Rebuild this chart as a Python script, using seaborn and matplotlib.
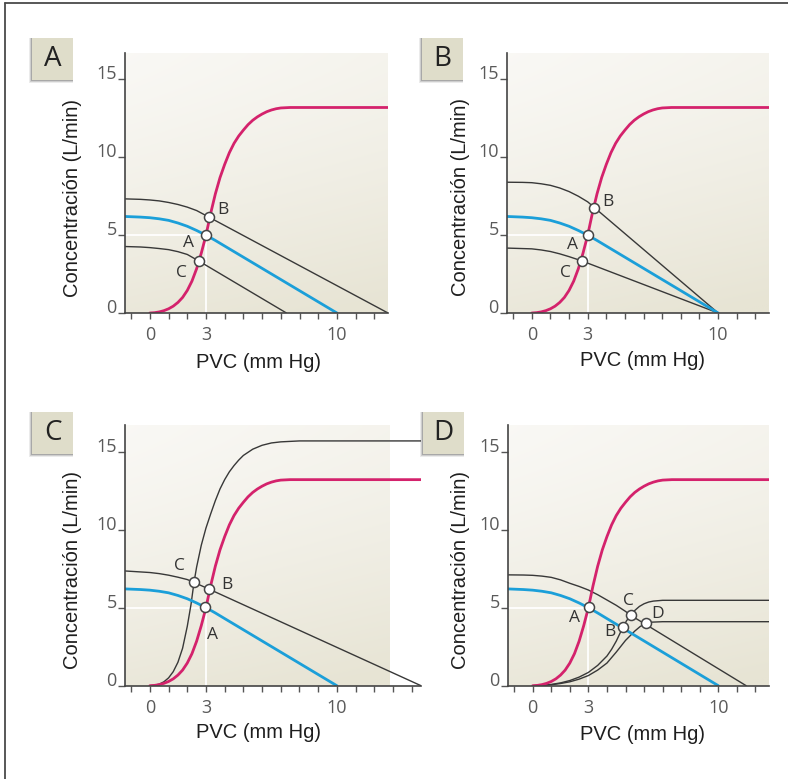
import numpy as np
import pandas as pd
import matplotlib
matplotlib.use("Agg")
import matplotlib.pyplot as plt
import seaborn as sns
from matplotlib.patches import Rectangle
from matplotlib.lines import Line2D

# ---------------------------------------------------------------- data
# Normal cardiac-output curve (same in every panel); the plateau runs to the
# right end of each axis.
cardiac_x = [0, 0.25, 0.5, 0.75, 1, 1.25, 1.5, 1.75, 2, 2.25, 2.5, 2.75, 3,
             3.25, 3.5, 3.75, 4, 4.25, 4.5, 4.75, 5, 5.25, 5.5, 5.75, 6,
             6.25, 6.5, 6.75, 7, 7.5]
cardiac_y = [0, 0.02, 0.07, 0.15, 0.27, 0.44, 0.68, 1.0, 1.45, 2.05, 2.85,
             3.85, 5.0, 6.4, 7.65, 8.7, 9.55, 10.3, 10.9, 11.37, 11.75, 12.1,
             12.38, 12.6, 12.78, 12.93, 13.04, 13.12, 13.17, 13.2]

# Normal venous-return curve (same in every panel)
venous_x = [-1.33, -0.5, 0, 0.5, 1, 1.5, 2, 2.5, 3, 3.5, 4, 10]
venous_y = [6.2, 6.16, 6.12, 6.05, 5.95, 5.78, 5.57, 5.3, 5.0, 4.66, 4.3, 0]

# Panel A: parallel shifts of venous return
a_high_x = [-1.33, -0.5, 0, 0.5, 1, 1.5, 2, 2.5, 3.17, 12.73]
a_high_y = [7.33, 7.3, 7.26, 7.2, 7.1, 6.97, 6.8, 6.58, 6.15, 0]
a_low_x = [-1.33, -0.5, 0, 0.5, 1, 1.5, 2, 2.6, 7.3]
a_low_y = [4.27, 4.24, 4.2, 4.14, 4.07, 3.94, 3.76, 3.35, 0]

# Panel B: rotations of venous return around the mean filling pressure
b_high_x = [-1.33, -0.5, 0, 0.5, 1, 1.5, 2, 2.5, 3, 3.36, 10]
b_high_y = [8.4, 8.39, 8.37, 8.3, 8.2, 8.03, 7.8, 7.5, 7.14, 6.77, 0]
b_low_x = [-1.33, 0, 0.5, 1, 1.5, 2, 2.68, 10]
b_low_y = [4.17, 4.12, 4.05, 3.95, 3.8, 3.62, 3.35, 0]

# Panel C: stronger heart plus raised venous return
c_heart_x = [0, 0.25, 0.5, 0.75, 1, 1.25, 1.5, 1.75, 2, 2.2, 2.36, 2.5, 2.75,
             3, 3.25, 3.5, 3.75, 4, 4.25, 4.5, 4.75, 5, 5.5, 6, 6.5, 7, 8]
c_heart_y = [0, 0.03, 0.1, 0.25, 0.5, 0.9, 1.5, 2.4, 3.8, 5.2, 6.62, 7.6,
             9.0, 10.1, 11.0, 11.85, 12.6, 13.2, 13.7, 14.1, 14.45, 14.75,
             15.15, 15.4, 15.55, 15.62, 15.68]
c_venous_x = [-1.33, 0, 0.5, 1, 1.5, 2, 2.36, 3.14, 14.5]
c_venous_y = [7.35, 7.25, 7.18, 7.08, 6.95, 6.8, 6.62, 6.2, 0]

# Panel D: weakened hearts and compensated venous return
d_venous_x = [-1.33, -0.5, 0, 0.5, 1, 1.5, 2, 2.5, 3, 3.5, 4, 4.5, 5, 5.28,
              11.5]
d_venous_y = [7.1, 7.09, 7.07, 7.02, 6.94, 6.78, 6.56, 6.36, 6.13, 5.83,
              5.49, 5.15, 4.76, 4.51, 0]
d_heart1_x = [0, 0.5, 1, 1.5, 2, 2.5, 3, 3.5, 4, 4.25, 4.5, 4.7, 4.86, 5.05,
              5.28, 5.5, 5.75, 6, 6.25, 6.5, 7]
d_heart1_y = [0, 0.02, 0.08, 0.18, 0.33, 0.55, 0.85, 1.3, 1.9, 2.33, 2.85,
              3.35, 3.74, 4.15, 4.51, 4.82, 5.08, 5.25, 5.36, 5.42, 5.47]
d_heart2_x = [0, 1, 1.5, 2, 2.5, 3, 3.5, 4, 4.5, 5, 5.5, 5.8, 6.13, 6.4, 7]
d_heart2_y = [0, 0.06, 0.14, 0.25, 0.42, 0.65, 1.0, 1.45, 2.15, 2.9, 3.5,
              3.8, 4.0, 4.07, 4.1]

# Equilibrium points and their letters: (name, x, y, label_x, label_y)
points_a = [("B", 3.17, 6.15, 3.9, 6.6), ("A", 3.0, 5.0, 2.05, 4.5),
            ("C", 2.6, 3.35, 1.71, 2.56)]
points_b = [("B", 3.36, 6.77, 4.1, 7.13), ("A", 3.04, 5.0, 2.17, 4.36),
            ("C", 2.68, 3.35, 1.78, 2.58)]
points_c = [("C", 2.36, 6.62, 1.6, 7.69), ("B", 3.14, 6.2, 4.1, 6.45),
            ("A", 2.95, 5.02, 3.35, 3.25)]
points_d = [("A", 3.03, 5.02, 2.27, 4.36), ("B", 4.86, 3.74, 4.17, 3.46),
            ("C", 5.28, 4.51, 5.16, 5.43), ("D", 6.13, 4.0, 6.75, 4.58)]

panel_letters = ["A", "B", "C", "D"]
x_tick_labels = {0: "0", 3: "3", 10: "10"}
y_tick_values = [0, 5, 10, 15]
x_title = "PVC (mm Hg)"
y_title = "Concentración (L/min)"

# ---------------------------------------------------------------- style
PINK = "#d4226c"
BLUE = "#1b9fd9"
DARK = "#383838"
W, H = 788, 779

sns.set_theme(style="white")
plt.rcParams["font.family"] = ["Liberation Sans", "DejaVu Sans"]
HUMANIST = ["Open Sans", "DejaVu Sans"]

fig = plt.figure(figsize=(W / 100, H / 100), dpi=100)
fig.patch.set_facecolor("white")


def fig_xy(px, py):
    return px / W, 1 - py / H


# frame lines along the top and left edges
fig.add_artist(Line2D([5 / W, 5 / W], [0, 1 - 3 / H], color="#4a4a4a",
                      lw=1.3, transform=fig.transFigure))
fig.add_artist(Line2D([5 / W, 1], [1 - 3 / H, 1 - 3 / H], color="#4a4a4a",
                      lw=1.3, transform=fig.transFigure))

# axes rectangles in pixels: left, top, right, bottom
boxes = [(125, 53, 388, 313), (507, 53, 769, 313),
         (125, 425, 421, 685.7), (508, 425, 769, 685.7)]
xmaxs = [12.73, 12.73, 14.5, 12.73]
XMIN, YMAX = -1.33, 16.7

label_box_px = [(32, 38), (422, 38), (32, 412), (423, 412)]
ylabel_px = [(73, 198), (460, 197), (73, 570), (460, 570)]
xlabel_px = [(259, 363), (642, 361), (259, 732), (642, 735)]

# background wash: beige towards the bottom, fading to white above
ny, nx = 160, 160
gy, gx = np.mgrid[0:1:ny * 1j, 0:1:nx * 1j]
shade = np.clip(0.04 + 0.78 * (1 - gy) ** 1.3 + 0.22 * gx, 0, 1)
beige = np.array([231, 228, 212]) / 255
white = np.array([250, 249, 246]) / 255
wash = white + (beige - white) * shade[..., None]

axes = []
for i, (l, t, r, b) in enumerate(boxes):
    x0, y0 = fig_xy(l, b)
    ax = fig.add_axes([x0, y0, (r - l) / W, (b - t) / H])
    ax.set_facecolor("none")
    axes.append(ax)
    xmax = xmaxs[i]
    ax.imshow(wash, extent=[XMIN, 12.8, 0, YMAX], origin="lower",
              aspect="auto", zorder=0, interpolation="bilinear")
    ax.set_xlim(XMIN, xmax)
    ax.set_ylim(0, YMAX)

    for side in ["top", "right"]:
        ax.spines[side].set_visible(False)
    for side in ["left", "bottom"]:
        ax.spines[side].set_color("#444444")
        ax.spines[side].set_linewidth(1.2)
        ax.spines[side].set_zorder(6)

    xt = list(range(-1, int(xmax) + 1))
    ax.set_xticks(xt, [x_tick_labels.get(v, "") for v in xt])
    ax.set_yticks(y_tick_values, [str(v) for v in y_tick_values])
    ax.tick_params(axis="x", direction="out", length=4.5, width=1.0,
                   color="#555555", labelcolor="#5a5a5a", labelsize=13,
                   pad=5, bottom=True)
    ax.tick_params(axis="y", direction="out", length=5, width=1.0,
                   color="#555555", labelcolor="#5a5a5a", labelsize=13,
                   pad=1, left=True)
    for lab in ax.get_xticklabels() + ax.get_yticklabels():
        lab.set_fontfamily(HUMANIST)
    for lab in ax.get_yticklabels():
        lab.set_verticalalignment("baseline")
    ax.grid(False)

    # white guide lines to the normal equilibrium point
    ax.plot([3, 3], [0, 5], color="white", lw=1.4, alpha=0.9, zorder=1)
    ax.plot([XMIN, 3], [5, 5], color="white", lw=1.4, alpha=0.9, zorder=1)

    # y and x titles
    fx, fy = fig_xy(*ylabel_px[i])
    fig.text(fx, fy, y_title, rotation=90, ha="center", va="center",
             fontsize=14.5, color="#1e1e1e")
    fx, fy = fig_xy(*xlabel_px[i])
    fig.text(fx, fy, x_title, ha="center", va="center", fontsize=14.5,
             color="#1e1e1e")

    # panel letter box with a soft shadow
    bx, by = label_box_px[i]
    bw, bh = 41, 42
    for k, a in enumerate([0.08, 0.12, 0.18]):
        off = 3 - k
        sx, sy = fig_xy(bx - off, by + bh + off)
        fig.add_artist(Rectangle((sx, sy), (bw + off) / W, (bh + off) / H,
                                 transform=fig.transFigure, facecolor="black",
                                 alpha=a, edgecolor="none", zorder=8))
    sx, sy = fig_xy(bx, by + bh)
    fig.add_artist(Rectangle((sx, sy), bw / W, bh / H,
                             transform=fig.transFigure, facecolor="#dfddca",
                             edgecolor="none", zorder=9))
    cx, cy = fig_xy(bx + bw / 2, by + bh / 2)
    fig.text(cx, cy, panel_letters[i], ha="center", va="center",
             fontsize=20, color="#222222", zorder=10, family=HUMANIST)


def curve(ax, xs, ys, color, lw, z=3):
    df = pd.DataFrame({"x": xs, "y": ys})
    sns.lineplot(data=df, x="x", y="y", ax=ax, color=color, lw=lw,
                 sort=False, estimator=None, zorder=z)


def mark(ax, pts):
    df = pd.DataFrame(pts, columns=["name", "x", "y", "lx", "ly"])
    sns.scatterplot(data=df, x="x", y="y", ax=ax, s=52, color="white",
                    edgecolor="#444444", linewidth=1.1, zorder=7)
    for _, r in df.iterrows():
        ax.text(r.lx, r.ly, r["name"], ha="center", va="center",
                fontsize=12.5, color="#333333", zorder=7, family=HUMANIST)


ax_a, ax_b, ax_c, ax_d = axes

# Panel A
curve(ax_a, a_high_x, a_high_y, DARK, 1.0)
curve(ax_a, a_low_x, a_low_y, DARK, 1.0)
curve(ax_a, venous_x, venous_y, BLUE, 2.0, 4)
curve(ax_a, cardiac_x + [xmaxs[0]], cardiac_y + [cardiac_y[-1]], PINK, 2.0, 5)
mark(ax_a, points_a)

# Panel B
curve(ax_b, b_high_x, b_high_y, DARK, 1.0)
curve(ax_b, b_low_x, b_low_y, DARK, 1.0)
curve(ax_b, venous_x, venous_y, BLUE, 2.0, 4)
curve(ax_b, cardiac_x + [xmaxs[1]], cardiac_y + [cardiac_y[-1]], PINK, 2.0, 5)
mark(ax_b, points_b)

# Panel C
curve(ax_c, c_heart_x + [xmaxs[2]], c_heart_y + [c_heart_y[-1]], DARK, 1.0)
curve(ax_c, c_venous_x, c_venous_y, DARK, 1.0)
curve(ax_c, venous_x, venous_y, BLUE, 2.0, 4)
curve(ax_c, cardiac_x + [xmaxs[2]], cardiac_y + [cardiac_y[-1]], PINK, 2.0, 5)
mark(ax_c, points_c)

# Panel D
curve(ax_d, d_venous_x, d_venous_y, DARK, 1.0)
curve(ax_d, d_heart1_x + [xmaxs[3]], d_heart1_y + [d_heart1_y[-1]], DARK, 1.0)
curve(ax_d, d_heart2_x + [xmaxs[3]], d_heart2_y + [d_heart2_y[-1]], DARK, 1.0)
curve(ax_d, venous_x, venous_y, BLUE, 2.0, 4)
curve(ax_d, cardiac_x + [xmaxs[3]], cardiac_y + [cardiac_y[-1]], PINK, 2.0, 5)
mark(ax_d, points_d)

for ax in axes:
    ax.set_xlabel("")
    ax.set_ylabel("")
    ax.set_xlim(XMIN, ax.get_xlim()[1])
    ax.set_ylim(0, YMAX)

fig.savefig("out.png", dpi=100, facecolor="white")
